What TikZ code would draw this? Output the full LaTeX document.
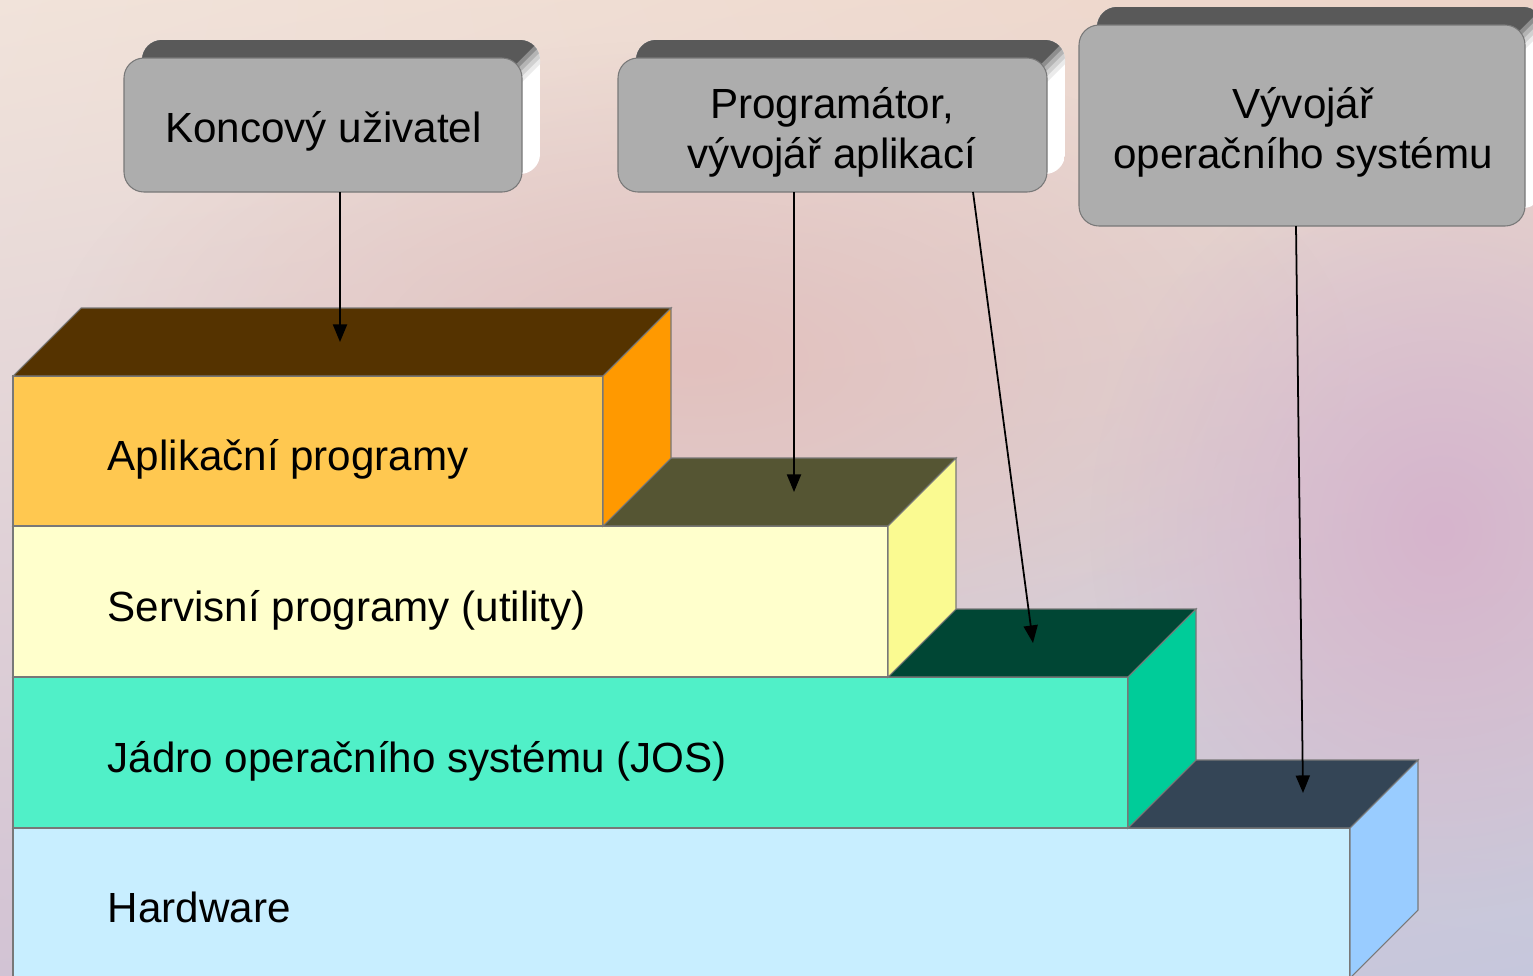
\documentclass[tikz,border=0pt]{standalone}
\usepackage{fontspec}
\setmainfont{Liberation Sans}
\usetikzlibrary{arrows.meta,calc,fadings,shadings}
\definecolor{bgUL}{RGB}{241,227,218}
\definecolor{bgUR}{RGB}{237,212,200}
\definecolor{bgLL}{RGB}{210,195,212}
\definecolor{bgLR}{RGB}{198,199,220}
\definecolor{blobA}{RGB}{214,180,204}
\definecolor{blobB}{RGB}{226,193,190}
\definecolor{appF}{RGB}{255,200,80}
\definecolor{appT}{RGB}{85,51,0}
\definecolor{appS}{RGB}{255,153,0}
\definecolor{srvF}{RGB}{255,255,204}
\definecolor{srvT}{RGB}{85,85,51}
\definecolor{srvS}{RGB}{250,250,145}
\definecolor{josF}{RGB}{80,240,200}
\definecolor{josT}{RGB}{0,70,52}
\definecolor{josS}{RGB}{0,204,153}
\definecolor{hwF}{RGB}{200,238,255}
\definecolor{hwT}{RGB}{52,69,86}
\definecolor{hwS}{RGB}{153,204,255}
\definecolor{boxF}{RGB}{173,173,173}
\definecolor{boxT}{RGB}{89,89,89}
\definecolor{edgeC}{RGB}{120,120,120}
\tikzfading[name=softblob, inner color=transparent!0, outer color=transparent!100]
\pgfdeclarelayer{back}
\pgfdeclarelayer{ext}
\pgfsetlayers{back,ext,main}
\newcommand\stairfaces[3]{%
  \filldraw[fill=#2, draw=edgeC, line width=0.3pt] (#1.north west) -- ++(0.68,0.68) -- ($(#1.north east)+(0.68,0.68)$) -- (#1.north east) -- cycle;
  \filldraw[fill=#3, draw=edgeC, line width=0.3pt] (#1.north east) -- ++(0.68,0.68) -- ($(#1.south east)+(0.68,0.68)$) -- (#1.south east) -- cycle;
}
\newcommand\extrude[1]{%
  \begin{pgfonlayer}{ext}
  \begin{scope}
    \path[clip, rounded corners=0.2cm] ($(#1.south west)+(0.18,0.18)$) rectangle ($(#1.north east)+(0.18,0.18)$);
    \fill[white] ($(#1.south west)+(0.18,0.18)$) rectangle ($(#1.north east)+(0.18,0.18)$);
    \fill[black!25] ($(#1.south east)+(-0.3,0.3)$) -- ($(#1.south east)+(0.3,-0.3)$) -- ($(#1.south east)+(-0.3,-0.3)$) -- cycle;
    \foreach \s/\c in {0.12/12,0.09/28,0.06/45,0.03/68,0/100}{%
      \fill[boxT!\c!white] ($(#1.north west)+(-0.1,-0.5)$) -- ($(#1.north west)+(-0.1,0.4)$) -- ($(#1.north east)+(0.3,0.3)+(\s,-\s)$) -- ($(#1.north east)+(-0.5,-0.5)+(\s,-\s)$) -- cycle;
    }
  \end{scope}
  \end{pgfonlayer}}
\tikzset{
  txt/.style={font=\fontsize{12}{14.2}\selectfont, text=black, inner sep=0pt},
  callout/.style={draw=edgeC, line width=0.3pt, fill=boxF, rounded corners=0.2cm, outer sep=0pt, inner sep=0pt},
  stair/.style={draw=edgeC, line width=0.3pt, outer sep=0pt, inner sep=0pt, anchor=north west, minimum width=#1},
  arr/.style={-{Triangle[length=5pt,width=4pt]}, line width=0.5pt, black},
}
\begin{document}
\begin{tikzpicture}
\useasboundingbox (0,0) rectangle (15.33,-9.75);
\begin{pgfonlayer}{back}
  \shade[upper left=bgUL, upper right=bgUR, lower left=bgLL, lower right=bgLR] (0,0) rectangle (15.33,-9.75);
  \fill[blobB, path fading=softblob] (7.0,-3.6) ellipse (6.5 and 3.2);
  \fill[blobA, path fading=softblob] (14.4,-5.3) ellipse (3.5 and 3.8);
\end{pgfonlayer}

% stairs, bottom to top
\node[stair=13.37cm, minimum height=1.50cm, fill=hwF] (hw) at (0.13,-8.28) {};
\stairfaces{hw}{hwT}{hwS}
\node[stair=11.15cm, minimum height=1.51cm, fill=josF] (jos) at (0.13,-6.77) {};
\stairfaces{jos}{josT}{josS}
\node[stair=8.75cm, minimum height=1.51cm, fill=srvF] (srv) at (0.13,-5.26) {};
\stairfaces{srv}{srvT}{srvS}
\node[stair=5.90cm, minimum height=1.50cm, fill=appF] (app) at (0.13,-3.76) {};
\stairfaces{app}{appT}{appS}

\node[txt, anchor=base west] (appL) at (1.07,-4.70) {Aplikační programy};
\node[txt, anchor=base west] (srvL) at (1.07,-6.21) {Servisní programy (utility)};
\node[txt, anchor=base west] (josL) at (1.07,-7.72) {Jádro operačního systému (JOS)};
\node[txt, anchor=base west] (hwL) at (1.07,-9.22) {Hardware};

% callouts
\node[callout, minimum width=3.98cm, minimum height=1.34cm] (user) at (3.23,-1.25) {};
\node[callout, minimum width=4.29cm, minimum height=1.34cm] (prog) at (8.325,-1.25) {};
\node[callout, minimum width=4.46cm, minimum height=2.01cm] (osdev) at (13.02,-1.255) {};
\extrude{user}
\extrude{prog}
\extrude{osdev}
\node[txt, anchor=base] (userL) at (3.235,-1.42) {Koncový uživatel};
\node[txt, anchor=base] (progL1) at (8.32,-1.18) {Programátor,};
\node[txt, anchor=base] (progL2) at (8.32,-1.68) {vývojář aplikací};
\node[txt, anchor=base] (osL1) at (13.03,-1.18) {Vývojář};
\node[txt, anchor=base] (osL2) at (13.03,-1.68) {operačního systému};

% arrows
\coordinate (t1) at (3.40,-3.42);
\coordinate (t2) at (7.94,-4.92);
\coordinate (t3) at (10.33,-6.43);
\coordinate (t4) at (13.03,-7.93);
\draw[arr] ($(user.south)+(0.17,0)$) -- (t1);
\draw[arr] ($(prog.south)+(-0.385,0)$) -- (t2);
\draw[arr] ($(prog.south)+(1.405,0)$) -- (t3);
\draw[arr] ($(osdev.south)+(-0.06,0)$) -- (t4);
\end{tikzpicture}
\end{document}
